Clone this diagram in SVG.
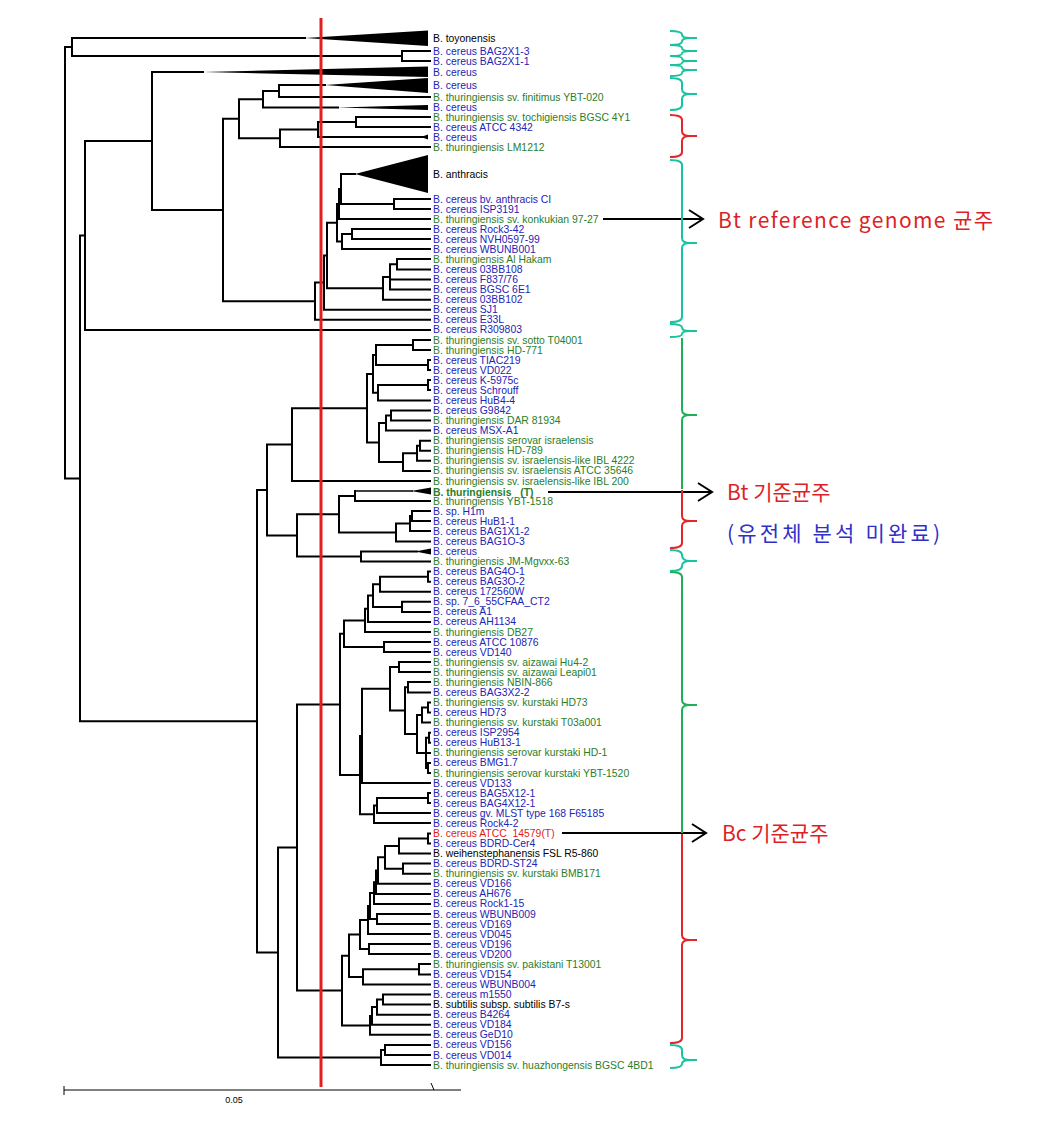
<svg xmlns="http://www.w3.org/2000/svg" width="1051" height="1125" viewBox="0 0 1051 1125">
<style>
.lb{font-family:"Liberation Sans",Arial,sans-serif;font-size:10.4px}
.b{fill:#2424b4}.g{fill:#2a7d2a}.k{fill:#000}.r{fill:#e01b1b}
.tr{fill:none;stroke:#000;stroke-width:2;stroke-linecap:square}
.tri{fill:#000;stroke:none}
.br{fill:none;stroke-width:2}
.teal{stroke:#19c3a0}.grn{stroke:#1eb054}.red{stroke:#e3262a}
.kr{font-family:"Noto Sans CJK KR","Liberation Sans",sans-serif;font-size:21px}
.ar{fill:none;stroke:#000;stroke-width:2}
</style>
<rect width="1051" height="1125" fill="#fff"/>
<g id="connectors">
<path class="tr" d="M65,47V478.4M65,47H72M65,478.4H80
M72,38V56M72,38H305M72,56H402
M402,51V61M402,51H430M402,61H430
M80,235.5V721.3M80,235.5H85M80,721.3H257
M85,141V330M85,141H152M85,330H430
M152,72V210M152,72H203M152,210H223
M223,118.8V301.2M223,118.8H239M223,301.2H315
M239,99.3V138.3M239,99.3H263M239,138.3H280
M263,91V107.5M263,91H279M263,107.5H338
M279,85V97M279,85H325M279,97H430
M280,129.5V147M280,129.5H318M280,147H430
M318,122V137M318,122H356M318,137H423
M356,117V127M356,117H430M356,127H430
M315,282.6V319.8M315,282.6H324M315,319.8H430
M324,255.5V309.8M324,255.5H327M324,309.8H430
M327,222.8V288.3M327,222.8H337M327,288.3H383
M337,204V241.5M337,204H339M337,241.5H342
M339,189V219M339,189H341M339,219H430
M341,174V204M341,174H355M341,204H394
M394,199V209M394,199H430M394,209H430
M342,234V249M342,234H352M342,249H430
M352,229V239M352,229H430M352,239H430
M383,277V299.7M383,277H390M383,299.7H430
M390,264.3V289.6M390,264.3H397M390,279.5H430M390,289.6H430
M397,259V269.5M397,259H430M397,269.5H430"/>
<path class="tr" d="M257,490V952.5M257,490H267M257,952.5H278
M267,444.6V535.4M267,444.6H292M267,535.4H297
M292,408.2V481M292,408.2H367M292,481H430
M367,373.9V442.6M367,373.9H373M367,442.6H379
M373,355V392.7M373,355H376M373,392.7H378
M376,345V365M376,345H413M376,365H428
M413,340V350M413,340H430M413,350H430
M428,360V370M428,360H430M428,370H430
M378,385V400.4M378,385H428M378,400.4H430
M428,380V390M428,380H430M428,390H430
M379,423V462.1M379,423H386M379,462.1H403
M386,415.5V430.6M386,415.5H391M386,430.6H430
M391,410.5V420.5M391,410.5H430M391,420.5H430
M403,453.3V470.9M403,453.3H417M403,470.9H430
M417,445.8V460.8M417,445.8H420M417,460.8H430
M420,440.7V450.8M420,440.7H430M420,450.8H430
M297,514.2V556.5M297,514.2H339M297,556.5H361
M339,496V532.5M339,496H355M339,532.5H396
M355,491V501M355,501H430
M396,523.5V541.4M396,523.5H410M396,541.4H430
M410,516V531M410,516H412M410,531H430
M412,511V521M412,511H430M412,521H430
M361,551.5V561.5M361,551.5H417M361,561.5H430"/>
<path d="M355,490.3L413,490.3L413,491.7L355,491.7Z" class="tri"/>
<path class="tr" d="M278,847.5V1057.5M278,847.5H297M278,1057.5H381
M297,704.4V990.6M297,704.4H340M297,990.6H342
M340,633.7V775M340,633.7H344M340,775H360
M344,620.4V647M344,620.4H365M344,647H384
M365,608.8V632M365,608.8H368M365,632H430
M368,595.5V622M368,595.5H373M368,622H430
M373,584.2V606.9M373,584.2H380M373,606.9H402
M380,576.7V591.7M380,576.7H428M380,591.7H430
M428,571.6V581.7M428,571.6H430M428,581.7H430
M402,601.8V611.9M402,601.8H430M402,611.9H430
M384,642V652M384,642H430M384,652H430
M360,735.9V814.3M360,735.9H362M360,814.3H374
M362,688.8V783M362,688.8H390M362,783H430
M390,667V710.6M390,667H399M390,710.6H405
M399,662V672M399,662H430M399,672H430
M405,687.2V734M405,687.2H408M405,734H417
M408,682V692.4M408,682H430M408,692.4H430
M417,715V752.9M417,715H422M417,752.9H426
M422,707.6V722.6M422,707.6H428M422,722.6H430
M428,702.5V712.6M428,702.5H430M428,712.6H430
M426,737.8V768M426,737.8H429M426,752.9H430M426,768H428
M429,732.7V742.8M429,732.7H430M429,742.8H430
M428,762.9V773M428,762.9H430M428,773H430
M374,805.5V823M374,805.5H377M374,823H430
M377,798V813M377,798H428M377,813H430
M428,793V803M428,793H430M428,803H430
M342,955.7V1025.4M342,955.7H349M342,1025.4H370
M349,934.5V976.9M349,934.5H360M349,976.9H363
M360,920V949M360,920H368M360,949H369
M368,906V934M368,906H370M368,934H430
M370,893.1V919M370,893.1H374M370,919H377
M374,882.2V903.9M374,882.2H376M374,903.9H430
M376,870.6V893.9M376,870.6H378M376,893.9H430
M378,857.3V883.8M378,857.3H385M378,883.8H430
M385,846V868.7M385,846H399M385,868.7H403
M399,838.5V853.6M399,838.5H428M399,853.6H430
M428,833.4V843.5M428,833.4H430M428,843.5H430
M403,863.6V873.7M403,863.6H430M403,873.7H430
M377,914V924M377,914H430M377,924H430
M369,944V954M369,944H430M369,954H430
M363,969.2V984.5M363,969.2H419M363,984.5H430
M419,964V974.4M419,964H430M419,974.4H430
M370,1016V1034.8M370,1016H372M370,1034.8H430
M372,1007.1V1024.8M372,1007.1H377M372,1024.8H430
M377,999.6V1014.7M377,999.6H383M377,1014.7H430
M383,994.5V1004.6M383,994.5H430M383,1004.6H430
M381,1050V1065M381,1050H385M381,1065H430
M385,1044.9V1055M385,1044.9H430M385,1055H430"/>
<g id="collapsed">
<polygon class="tri" points="305,38 428,30.5 428,46"/>
<polygon class="tri" points="203,72 428,66.5 428,77"/>
<polygon class="tri" points="325,85 428,78 428,93"/>
<polygon class="tri" points="338,107.5 428,105 428,110"/>
<polygon class="tri" points="421,137 428,134.5 428,139.5"/>
<polygon class="tri" points="355,174 428,155 428,193"/>
<polygon class="tri" points="411,491 431,487.5 431,494.5"/>
<polygon class="tri" points="415,551.5 431,548.5 431,554.5"/>
</g>
<g id="arrows">
<path class="ar" d="M603,219H703M689,210L703,219L689,228"/>
<path class="ar" d="M548,492H712M698,483L712,492L698,501"/>
<path class="ar" d="M562,833H706M692,824L706,833L692,842"/>
</g>
</g>
<g id="cutline"><line x1="321" y1="18" x2="321" y2="1087" stroke="#e0201c" stroke-width="3"/></g>
<g id="labels" class="lb">
<g id="u0"><text x="433" y="41.5" class="k">B. toyonensis</text></g>
<g id="u1"><text x="433" y="54.5" class="b">B. cereus BAG2X1-3</text></g>
<g id="u2"><text x="433" y="64.5" class="b">B. cereus BAG2X1-1</text></g>
<g id="u3"><text x="433" y="75.5" class="b">B. cereus</text></g>
<g id="u4"><text x="433" y="88.5" class="b">B. cereus</text></g>
<g id="u5"><text x="433" y="100.5" class="g">B. thuringiensis sv. finitimus YBT-020</text></g>
<g id="u6"><text x="433" y="111" class="b">B. cereus</text></g>
<g id="u7"><text x="433" y="120.5" class="g">B. thuringiensis sv. tochigiensis BGSC 4Y1</text></g>
<g id="u8"><text x="433" y="130.5" class="b">B. cereus ATCC 4342</text></g>
<g id="u9"><text x="433" y="140.5" class="b">B. cereus</text></g>
<g id="u10"><text x="433" y="150.5" class="g">B. thuringiensis LM1212</text></g>
<g id="u11"><text x="433" y="177.5" class="k">B. anthracis</text></g>
<g id="l0"><text x="433" y="202.5" class="b">B. cereus bv. anthracis CI</text></g>
<g id="l1"><text x="433" y="212.6" class="b">B. cereus ISP3191</text></g>
<g id="l2"><text x="433" y="222.6" class="g">B. thuringiensis sv. konkukian 97-27</text></g>
<g id="l3"><text x="433" y="232.7" class="b">B. cereus Rock3-42</text></g>
<g id="l4"><text x="433" y="242.8" class="b">B. cereus NVH0597-99</text></g>
<g id="l5"><text x="433" y="252.9" class="b">B. cereus WBUNB001</text></g>
<g id="l6"><text x="433" y="262.9" class="g">B. thuringiensis Al Hakam</text></g>
<g id="l7"><text x="433" y="273" class="b">B. cereus 03BB108</text></g>
<g id="l8"><text x="433" y="283.1" class="b">B. cereus F837/76</text></g>
<g id="l9"><text x="433" y="293.1" class="b">B. cereus BGSC 6E1</text></g>
<g id="l10"><text x="433" y="303.2" class="b">B. cereus 03BB102</text></g>
<g id="l11"><text x="433" y="313.3" class="b">B. cereus SJ1</text></g>
<g id="l12"><text x="433" y="323.3" class="b">B. cereus E33L</text></g>
<g id="l13"><text x="433" y="333.4" class="b">B. cereus R309803</text></g>
<g id="l14"><text x="433" y="343.5" class="g">B. thuringiensis sv. sotto T04001</text></g>
<g id="l15"><text x="433" y="353.6" class="g">B. thuringiensis HD-771</text></g>
<g id="l16"><text x="433" y="363.6" class="b">B. cereus TIAC219</text></g>
<g id="l17"><text x="433" y="373.7" class="b">B. cereus VD022</text></g>
<g id="l18"><text x="433" y="383.8" class="b">B. cereus K-5975c</text></g>
<g id="l19"><text x="433" y="393.8" class="b">B. cereus Schrouff</text></g>
<g id="l20"><text x="433" y="403.9" class="b">B. cereus HuB4-4</text></g>
<g id="l21"><text x="433" y="414" class="b">B. cereus G9842</text></g>
<g id="l22"><text x="433" y="424" class="g">B. thuringiensis DAR 81934</text></g>
<g id="l23"><text x="433" y="434.1" class="b">B. cereus MSX-A1</text></g>
<g id="l24"><text x="433" y="444.2" class="g">B. thuringiensis serovar israelensis</text></g>
<g id="l25"><text x="433" y="454.3" class="g">B. thuringiensis HD-789</text></g>
<g id="l26"><text x="433" y="464.3" class="g">B. thuringiensis sv. israelensis-like IBL 4222</text></g>
<g id="l27"><text x="433" y="474.4" class="g">B. thuringiensis sv. israelensis ATCC 35646</text></g>
<g id="l28"><text x="433" y="484.5" class="g">B. thuringiensis sv. israelensis-like IBL 200</text></g>
<g id="l29"><text x="433" y="495.5" class="g" font-weight="bold" style="white-space:pre">B. thuringiensis   (T)</text></g>
<g id="l30"><text x="433" y="504.6" class="g">B. thuringiensis YBT-1518</text></g>
<g id="l31"><text x="433" y="514.7" class="b">B. sp. H1m</text></g>
<g id="l32"><text x="433" y="524.7" class="b">B. cereus HuB1-1</text></g>
<g id="l33"><text x="433" y="534.8" class="b">B. cereus BAG1X1-2</text></g>
<g id="l34"><text x="433" y="544.9" class="b">B. cereus BAG1O-3</text></g>
<g id="l35"><text x="433" y="554.9" class="b">B. cereus</text></g>
<g id="l36"><text x="433" y="565" class="g">B. thuringiensis JM-Mgvxx-63</text></g>
<g id="l37"><text x="433" y="575.1" class="b">B. cereus BAG4O-1</text></g>
<g id="l38"><text x="433" y="585.2" class="b">B. cereus BAG3O-2</text></g>
<g id="l39"><text x="433" y="595.2" class="b">B. cereus 172560W</text></g>
<g id="l40"><text x="433" y="605.3" class="b">B. sp. 7_6_55CFAA_CT2</text></g>
<g id="l41"><text x="433" y="615.4" class="b">B. cereus A1</text></g>
<g id="l42"><text x="433" y="625.4" class="b">B. cereus AH1134</text></g>
<g id="l43"><text x="433" y="635.5" class="g">B. thuringiensis DB27</text></g>
<g id="l44"><text x="433" y="645.6" class="b">B. cereus ATCC 10876</text></g>
<g id="l45"><text x="433" y="655.7" class="b">B. cereus VD140</text></g>
<g id="l46"><text x="433" y="665.7" class="g">B. thuringiensis sv. aizawai Hu4-2</text></g>
<g id="l47"><text x="433" y="675.8" class="g">B. thuringiensis sv. aizawai Leapi01</text></g>
<g id="l48"><text x="433" y="685.9" class="g">B. thuringiensis NBIN-866</text></g>
<g id="l49"><text x="433" y="695.9" class="b">B. cereus BAG3X2-2</text></g>
<g id="l50"><text x="433" y="706" class="g">B. thuringiensis sv. kurstaki HD73</text></g>
<g id="l51"><text x="433" y="716.1" class="b">B. cereus HD73</text></g>
<g id="l52"><text x="433" y="726.1" class="g">B. thuringiensis sv. kurstaki T03a001</text></g>
<g id="l53"><text x="433" y="736.2" class="b">B. cereus ISP2954</text></g>
<g id="l54"><text x="433" y="746.3" class="b">B. cereus HuB13-1</text></g>
<g id="l55"><text x="433" y="756.4" class="g">B. thuringiensis serovar kurstaki HD-1</text></g>
<g id="l56"><text x="433" y="766.4" class="b">B. cereus BMG1.7</text></g>
<g id="l57"><text x="433" y="776.5" class="g">B. thuringiensis serovar kurstaki YBT-1520</text></g>
<g id="l58"><text x="433" y="786.6" class="b">B. cereus VD133</text></g>
<g id="l59"><text x="433" y="796.6" class="b">B. cereus BAG5X12-1</text></g>
<g id="l60"><text x="433" y="806.7" class="b">B. cereus BAG4X12-1</text></g>
<g id="l61"><text x="433" y="816.8" class="b">B. cereus gv. MLST type 168 F65185</text></g>
<g id="l62"><text x="433" y="826.8" class="b">B. cereus Rock4-2</text></g>
<g id="l63"><text x="433" y="836.9" class="r" style="white-space:pre">B. cereus ATCC  14579(T)</text></g>
<g id="l64"><text x="433" y="847" class="b">B. cereus BDRD-Cer4</text></g>
<g id="l65"><text x="433" y="857.1" class="k">B. weihenstephanensis FSL R5-860</text></g>
<g id="l66"><text x="433" y="867.1" class="b">B. cereus BDRD-ST24</text></g>
<g id="l67"><text x="433" y="877.2" class="g">B. thuringiensis sv. kurstaki BMB171</text></g>
<g id="l68"><text x="433" y="887.3" class="b">B. cereus VD166</text></g>
<g id="l69"><text x="433" y="897.3" class="b">B. cereus AH676</text></g>
<g id="l70"><text x="433" y="907.4" class="b">B. cereus Rock1-15</text></g>
<g id="l71"><text x="433" y="917.5" class="b">B. cereus WBUNB009</text></g>
<g id="l72"><text x="433" y="927.5" class="b">B. cereus VD169</text></g>
<g id="l73"><text x="433" y="937.6" class="b">B. cereus VD045</text></g>
<g id="l74"><text x="433" y="947.7" class="b">B. cereus VD196</text></g>
<g id="l75"><text x="433" y="957.8" class="b">B. cereus VD200</text></g>
<g id="l76"><text x="433" y="967.8" class="g">B. thuringiensis sv. pakistani T13001</text></g>
<g id="l77"><text x="433" y="977.9" class="b">B. cereus VD154</text></g>
<g id="l78"><text x="433" y="988" class="b">B. cereus WBUNB004</text></g>
<g id="l79"><text x="433" y="998" class="b">B. cereus m1550</text></g>
<g id="l80"><text x="433" y="1008.1" class="k">B. subtilis subsp. subtilis B7-s</text></g>
<g id="l81"><text x="433" y="1018.2" class="b">B. cereus B4264</text></g>
<g id="l82"><text x="433" y="1028.2" class="b">B. cereus VD184</text></g>
<g id="l83"><text x="433" y="1038.3" class="b">B. cereus GeD10</text></g>
<g id="l84"><text x="433" y="1048.4" class="b">B. cereus VD156</text></g>
<g id="l85"><text x="433" y="1058.5" class="b">B. cereus VD014</text></g>
<g id="l86"><text x="433" y="1068.5" class="g">B. thuringiensis sv. huazhongensis BGSC 4BD1</text></g>
</g>
<g id="braces">
<path class="br teal" d="M670,31Q682,31 682,34.5Q682,38 690,38H697M690,38Q682,38 682,41.5Q682,45 670,45"/>
<path class="br teal" d="M670,45Q682,45 682,48Q682,51 690,51H697M690,51Q682,51 682,53.5Q682,56 670,56"/>
<path class="br teal" d="M670,56Q682,56 682,58.5Q682,61 690,61H697M690,61Q682,61 682,63Q682,65 670,65"/>
<path class="br teal" d="M670,65Q682,65 682,67.5Q682,70 690,70H697M690,70Q682,70 682,73Q682,76 670,76"/>
<path class="br teal" d="M670,78Q682,78 682,83V89Q682,94 690,94H697M690,94Q682,94 682,99V105Q682,110 670,110"/>
<path class="br red" d="M670,115Q682,115 682,120V131Q682,136 690,136H697M690,136Q682,136 682,141V152Q682,157 670,157"/>
<path class="br teal" d="M670,160Q682,160 682,165V238Q682,243 690,243H697M690,243Q682,243 682,248V317Q682,322 670,322"/>
<path class="br teal" d="M670,324Q682,324 682,327.5Q682,331 690,331H697M690,331Q682,331 682,334Q682,337 670,337"/>
<path class="br grn" d="M682,338V410Q682,415 690,415H697M690,415Q682,415 682,420V489"/>
<path class="br red" d="M682,490V516Q682,521 690,521H697M690,521Q682,521 682,526V543Q682,548 670,548"/>
<path class="br teal" d="M670,550Q682,550 682,555Q682,561 690,561H697M690,561Q682,561 682,566Q682,571 670,571"/>
<path class="br grn" d="M670,572Q682,572 682,577V700Q682,705 690,705H697M690,705Q682,705 682,710V833"/>
<path class="br red" d="M682,834V935Q682,940 690,940H697M690,940Q682,940 682,945V1038Q682,1043 670,1043"/>
<path class="br teal" d="M670,1045Q682,1045 682,1050V1055Q682,1060 690,1060H697M690,1060Q682,1060 682,1064Q682,1068 670,1068"/>
</g>
<g id="notes">
<text x="718" y="228" class="kr" fill="#dd1f26" textLength="275" lengthAdjust="spacing">Bt reference genome 균주</text>
<text x="727" y="500" class="kr" fill="#dd1f26">Bt 기준균주</text>
<text x="727" y="541" class="kr" fill="#3030c8" textLength="213" lengthAdjust="spacing">(유전체 분석 미완료)</text>
<text x="722" y="841" class="kr" fill="#dd1f26">Bc 기준균주</text>
</g>
<g id="scalebar">
<path d="M64,1090H461M64,1086V1095M431,1083L434,1090" fill="none" stroke="#000" stroke-width="1"/>
<text x="234" y="1103" text-anchor="middle" font-family="Liberation Sans, Arial, sans-serif" font-size="9">0.05</text>
</g>
</svg>
